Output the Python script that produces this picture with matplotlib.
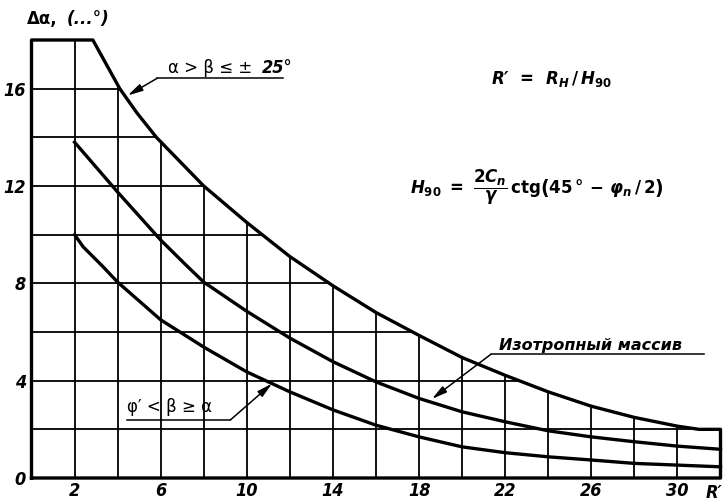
import matplotlib
matplotlib.use("Agg")
import matplotlib.pyplot as plt
from matplotlib.patches import Polygon

# curves
top_x = [2.85, 4.1, 4.9, 5.8, 6.9, 8, 10, 12, 14, 16, 18, 20, 22, 24, 26, 28, 30, 31, 32]
top_y = [18.0, 16.0, 15.0, 14.0, 13.0, 12.0, 10.5, 9.1, 7.9, 6.8, 5.86, 4.95, 4.22, 3.54, 2.95, 2.49, 2.13, 2.0, 2.0]

mid_x = [2, 4, 6, 7.2, 8, 10, 12, 14, 16, 18, 20, 22, 24, 26, 28, 30, 32]
mid_y = [13.8, 11.75, 9.78, 8.73, 8.05, 6.85, 5.75, 4.78, 3.95, 3.27, 2.72, 2.31, 1.94, 1.69, 1.49, 1.31, 1.18]

bot_x = [2, 2.4, 3.27, 4, 6, 8, 10, 12, 14, 16, 18, 20, 22, 24, 26, 28, 30, 32]
bot_y = [10.0, 9.5, 8.73, 8.05, 6.5, 5.38, 4.36, 3.54, 2.8, 2.17, 1.69, 1.28, 1.04, 0.87, 0.74, 0.6, 0.53, 0.46]

x_ticks = [2, 6, 10, 14, 18, 22, 26, 30]
y_ticks = [0, 4, 8, 12, 16]
grid_x = list(range(2, 32, 2))
grid_y = list(range(2, 18, 2))

plt.rcParams["font.family"] = ["DejaVu Sans"]
plt.rcParams["mathtext.fontset"] = "custom"
plt.rcParams["mathtext.it"] = "DejaVu Sans:italic:bold"
plt.rcParams["mathtext.rm"] = "DejaVu Sans:bold"
plt.rcParams["mathtext.bf"] = "DejaVu Sans:bold"

fig = plt.figure(figsize=(7.24, 5.03), dpi=100)
ax = fig.add_axes([31.5 / 724, 25 / 503, 689 / 724, 438 / 503])
ax.set_xlim(0, 32)
ax.set_ylim(0, 18)
for s in ax.spines.values():
    s.set_visible(False)

# area under the top curve, the grid is only drawn inside it
bx = [0, 0] + top_x + [32, 0]
by = [0, 18] + top_y + [0, 0]
area = Polygon(list(zip(bx, by)), closed=True, transform=ax.transData)

vl = ax.vlines(grid_x, 0, 18, colors="black", linewidth=1.3)
hl = ax.hlines(grid_y, 0, 32, colors="black", linewidth=1.3)
vl.set_clip_path(area)
hl.set_clip_path(area)

ax.plot(bx, by, color="black", linewidth=2.4, clip_on=False, solid_joinstyle="round")
ax.plot(mid_x, mid_y, color="black", linewidth=2.4, clip_on=False, solid_joinstyle="round")
ax.plot(bot_x, bot_y, color="black", linewidth=2.4, clip_on=False, solid_joinstyle="round")

ax.set_xticks(x_ticks)
ax.set_yticks(y_ticks)
ax.tick_params(length=0)
ax.tick_params(axis="x", pad=3)
ax.tick_params(axis="y", pad=4)
for lab in ax.get_xticklabels() + ax.get_yticklabels():
    lab.set_fontsize(13)
    lab.set_fontweight("bold")
    lab.set_fontstyle("italic")
    lab.set_fontstretch("condensed")

ax.text(31.3, -0.6, "R′", fontsize=13, fontweight="bold", fontstyle="italic",
        fontstretch="condensed", ha="left", va="center", clip_on=False)
ax.text(-0.2, 18.85, "Δα,", fontsize=12, fontweight="bold",
        ha="left", va="center", clip_on=False)
ax.text(1.65, 18.85, "(...°)", fontsize=12, fontweight="bold", fontstyle="italic",
        ha="left", va="center", clip_on=False)

# labels with leaders
arrow = dict(arrowstyle="-|>,head_length=0.9,head_width=0.22", color="black",
             linewidth=1.1, shrinkA=0, shrinkB=0)

ax.text(6.35, 16.84, "α > β ≤ ±", fontsize=12, ha="left", va="center")
ax.text(10.72, 16.84, "25°", fontsize=13, fontweight="bold", fontstyle="italic",
        fontstretch="condensed", ha="left", va="center")
ax.plot([5.84, 11.7], [16.43, 16.43], color="black", linewidth=1.1)
ax.annotate("", xy=(4.47, 15.72), xytext=(5.84, 16.43), arrowprops=arrow)

ax.text(4.44, 2.91, "φ′ < β ≥ α", fontsize=12, ha="left", va="center")
ax.plot([4.44, 9.23], [2.38, 2.38], color="black", linewidth=1.1)
ax.annotate("", xy=(11.17, 3.88), xytext=(9.23, 2.38), arrowprops=arrow)

ax.text(21.7, 5.45, "Изотропный массив", fontsize=11.5, fontweight="bold",
        fontstyle="italic", ha="left", va="center")
ax.plot([21.33, 31.23], [5.08, 5.08], color="black", linewidth=1.1)
ax.annotate("", xy=(18.6, 3.25), xytext=(21.33, 5.08), arrowprops=arrow)

# formulas
ax.text(24.12, 16.39, r"R′  =  $R_H\,/\,H_{90}$", fontsize=12, fontweight="bold",
        fontstyle="italic", ha="center", va="center")
ax.text(23.5, 11.93,
        r"$H_{90}\ =\ \dfrac{2C_n}{\gamma}\,\mathrm{ctg}\left(45\,°\,-\,\varphi_n\,/\,2\right)$",
        fontsize=12, ha="center", va="center")

fig.savefig("out.png", dpi=100)
